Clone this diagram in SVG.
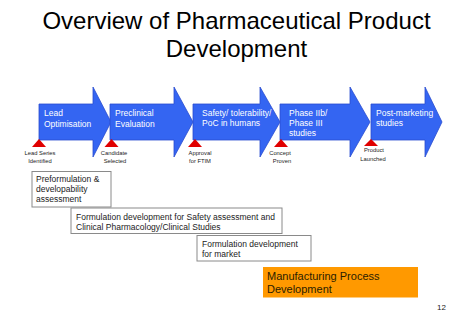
<svg xmlns="http://www.w3.org/2000/svg" width="474" height="328" viewBox="0 0 474 328">
<style>
  text { font-family: "Liberation Sans", Arial, sans-serif; }
  .title { font-size: 24px; fill: #000; text-anchor: middle; }
  .arrow { fill: #3465F2; stroke: #2A4CCF; stroke-width: 0.8; }
  .atext { font-size: 8.5px; fill: #fff; }
  .tri { fill: #E00000; }
  .ms { font-size: 5.8px; fill: #222; text-anchor: middle; }
  .box { fill: #fff; stroke: #8a8a8a; stroke-width: 1; }
  .btext { font-size: 8.5px; fill: #222; }
  .obox { fill: #FF9900; }
  .otext { font-size: 11px; fill: #2b1d00; }
  .pnum { font-size: 8px; fill: #222; }
</style>
<rect width="474" height="328" fill="#fff"/>
<g id="title">
  <text class="title" x="236.5" y="29">Overview of Pharmaceutical Product</text>
  <text class="title" x="236.5" y="57">Development</text>
</g>
<g id="connectors"></g>
<g id="stage1">
  <polygon class="arrow" points="39,104 93,104 93,87 111,122 93,157 93,140 39,140"/>
  <text class="atext" x="44" y="116">Lead</text>
  <text class="atext" x="44" y="127">Optimisation</text>
</g>
<g id="stage2">
  <polygon class="arrow" points="110,104 174,104 174,87 193,122 174,157 174,140 110,140"/>
  <text class="atext" x="115" y="116">Preclinical</text>
  <text class="atext" x="115" y="127">Evaluation</text>
</g>
<g id="stage3">
  <polygon class="arrow" points="193,104 260,104 260,87 280,122 260,157 260,140 193,140"/>
  <text class="atext" x="202" y="116">Safety/ tolerability/</text>
  <text class="atext" x="202" y="126">PoC in humans</text>
</g>
<g id="stage4">
  <polygon class="arrow" points="280,104 350,104 350,87 370,122 350,157 350,140 280,140"/>
  <text class="atext" x="289" y="116">Phase IIb/</text>
  <text class="atext" x="289" y="126">Phase III</text>
  <text class="atext" x="289" y="136">studies</text>
</g>
<g id="stage5">
  <polygon class="arrow" points="371,104 425,104 425,87 442,122 425,157 425,140 371,140"/>
  <text class="atext" x="376" y="116">Post-marketing</text>
  <text class="atext" x="376" y="126">studies</text>
</g>
<g id="milestone1">
  <polygon class="tri" points="39,139 46,147 32,147"/>
  <text class="ms" x="40" y="155">Lead Series</text>
  <text class="ms" x="40" y="163">Identified</text>
</g>
<g id="milestone2">
  <polygon class="tri" points="111.5,139 118.5,147 104.5,147"/>
  <text class="ms" x="114" y="155">Candidate</text>
  <text class="ms" x="115" y="163">Selected</text>
</g>
<g id="milestone3">
  <polygon class="tri" points="195,139 202,147 188,147"/>
  <text class="ms" x="200" y="155">Approval</text>
  <text class="ms" x="200" y="163">for FTIM</text>
</g>
<g id="milestone4">
  <polygon class="tri" points="281,139 288,147 274,147"/>
  <text class="ms" x="280" y="155">Concept</text>
  <text class="ms" x="282" y="163">Proven</text>
</g>
<g id="milestone5">
  <polygon class="tri" points="371,139 378,146 364,146"/>
  <text class="ms" x="374" y="152">Product</text>
  <text class="ms" x="373" y="161">Launched</text>
</g>
<g id="preformulation">
  <rect class="box" x="32" y="171.5" width="79" height="35.5"/>
  <text class="btext" x="36" y="182">Preformulation &amp;</text>
  <text class="btext" x="36" y="192">developability</text>
  <text class="btext" x="36" y="202">assessment</text>
</g>
<g id="formulation-safety">
  <rect class="box" x="71" y="208" width="211" height="25.5"/>
  <text class="btext" x="76" y="220">Formulation development for Safety assessment and</text>
  <text class="btext" x="76" y="230">Clinical Pharmacology/Clinical Studies</text>
</g>
<g id="formulation-market">
  <rect class="box" x="197" y="235.5" width="114" height="25.5"/>
  <text class="btext" x="202" y="247">Formulation development</text>
  <text class="btext" x="202" y="257">for market</text>
</g>
<g id="manufacturing">
  <rect class="obox" x="263" y="267" width="155" height="30.5"/>
  <text class="otext" x="267" y="280">Manufacturing Process</text>
  <text class="otext" x="267" y="293">Development</text>
</g>
<text class="pnum" x="437" y="310">12</text>
</svg>
